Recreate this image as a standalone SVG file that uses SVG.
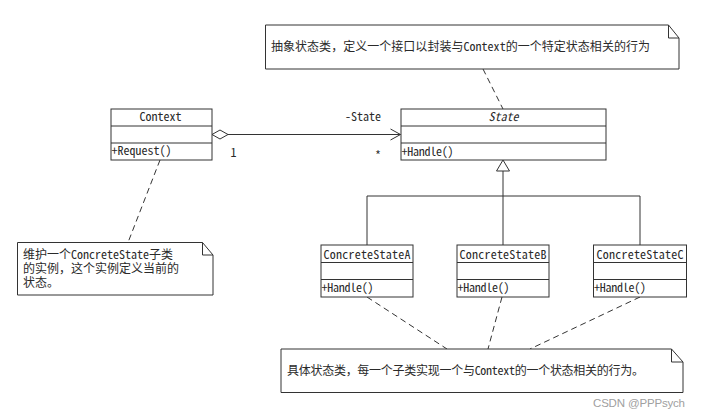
<svg xmlns="http://www.w3.org/2000/svg" width="701" height="419" viewBox="0 0 701 419">
<style>
  .box { fill: #ffffff; stroke: #333333; stroke-width: 1; }
  .ln { fill: none; stroke: #333333; stroke-width: 1; }
  .dash { fill: none; stroke: #333333; stroke-width: 1; stroke-dasharray: 6 4; }
  .t { font-family: "Noto Sans Mono CJK SC", "Noto Sans CJK SC", "Liberation Mono", monospace; font-size: 12px; fill: #2a2a2a; }
  .it { font-style: italic; }
  .mid { text-anchor: middle; }
  .wm { font-family: "Liberation Sans", Arial, sans-serif; font-size: 11.5px; fill: #a0a0a0; }
</style>
<rect width="701" height="419" fill="#ffffff"/>

<g id="connectors">
  <line class="dash" x1="483" y1="69" x2="503" y2="109"/>
  <line class="dash" x1="160" y1="160" x2="128" y2="242.5"/>
  <line class="dash" x1="367" y1="297" x2="447" y2="349"/>
  <line class="dash" x1="502" y1="297" x2="488" y2="349"/>
  <line class="dash" x1="640" y1="297" x2="530" y2="349"/>
  <line class="ln" x1="228" y1="134.5" x2="400.5" y2="134.5"/>
  <polygon class="box" points="212,134.5 220,130 228,134.5 220,139"/>
  <polyline class="ln" points="390.5,129 400.5,134.5 390.5,140"/>
  <path class="ln" d="M503,171 V196 M367,196 H640 M367,196 V245 M503,196 V245 M640,196 V245"/>
  <polygon class="box" points="503,160 496.5,171 509.5,171"/>
  <text class="t" x="345" y="120.5" textLength="36">-State</text>
  <text class="t" x="230.5" y="156.5">1</text>
  <text class="t" x="375" y="159.5">*</text>
</g>

<g id="context">
  <rect class="box" x="111" y="109" width="101" height="51"/>
  <path class="ln" d="M111,126 H212 M111,143 H212"/>
  <text class="t mid" x="160.5" y="121" textLength="42">Context</text>
  <text class="t" x="111.5" y="155" textLength="60">+Request()</text>
</g>

<g id="state">
  <rect class="box" x="401" y="109" width="205" height="51"/>
  <path class="ln" d="M401,126 H606 M401,143 H606"/>
  <text class="t it mid" x="503.5" y="121" textLength="30">State</text>
  <text class="t" x="401.5" y="156" textLength="52">+Handle()</text>
</g>

<g id="concreteA">
  <rect class="box" x="321" y="245" width="92" height="52"/>
  <path class="ln" d="M321,262.5 H413 M321,279.5 H413"/>
  <text class="t mid" x="367" y="258.5" textLength="87">ConcreteStateA</text>
  <text class="t" x="321.5" y="292" textLength="52">+Handle()</text>
</g>

<g id="concreteB">
  <rect class="box" x="457" y="245" width="92" height="52"/>
  <path class="ln" d="M457,262.5 H549 M457,279.5 H549"/>
  <text class="t mid" x="503" y="258.5" textLength="87">ConcreteStateB</text>
  <text class="t" x="457.5" y="292" textLength="52">+Handle()</text>
</g>

<g id="concreteC">
  <rect class="box" x="593.5" y="245" width="93" height="52"/>
  <path class="ln" d="M593.5,262.5 H686.5 M593.5,279.5 H686.5"/>
  <text class="t mid" x="640" y="258.5" textLength="87">ConcreteStateC</text>
  <text class="t" x="594" y="292" textLength="52">+Handle()</text>
</g>

<g id="note-abstract">
  <path class="box" d="M265.5,25 H668.5 L679,38 V69 H265.5 Z"/>
  <path class="ln" d="M668.5,25 V38 H679"/>
  <text class="t" x="271" y="51" textLength="379">抽象状态类，定义一个接口以封装与Context的一个特定状态相关的行为</text>
</g>

<g id="note-context">
  <path class="box" d="M17.5,242.5 H202.5 L213,255 V295 H17.5 Z"/>
  <path class="ln" d="M202.5,242.5 V255 H213"/>
  <text class="t" x="23" y="258.5"><tspan x="23" y="258.5">维护一个ConcreteState子类</tspan><tspan x="23" y="272.5">的实例，这个实例定义当前的</tspan><tspan x="23" y="286.5">状态。</tspan></text>
</g>

<g id="note-concrete">
  <path class="box" d="M281,349 H671.5 L683,362 V392.5 H281 Z"/>
  <path class="ln" d="M671.5,349 V362 H683"/>
  <text class="t" x="287" y="375" textLength="357">具体状态类，每一个子类实现一个与Context的一个状态相关的行为。</text>
</g>

<text class="wm" x="593" y="407" textLength="92">CSDN @PPPsych</text>
</svg>
